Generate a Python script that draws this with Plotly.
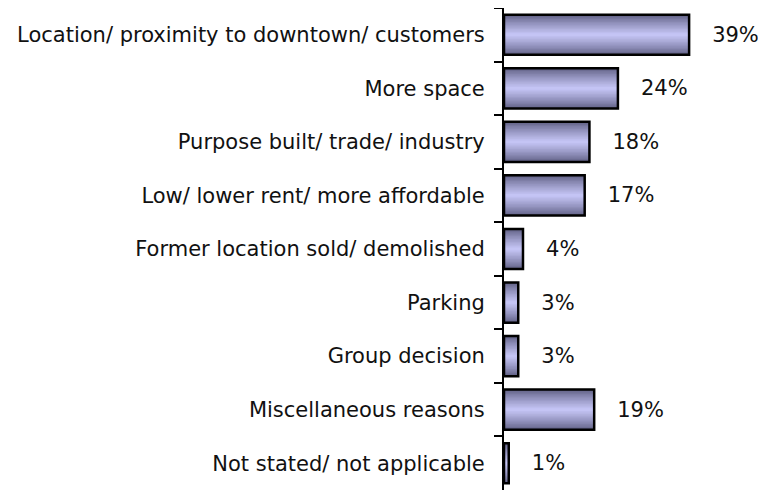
import numpy as np
from plotly import graph_objects as go

reasons = [
    "Location/ proximity to downtown/ customers",
    "More space",
    "Purpose built/ trade/ industry",
    "Low/ lower rent/ more affordable",
    "Former location sold/ demolished",
    "Parking",
    "Group decision",
    "Miscellaneous reasons",
    "Not stated/ not applicable",
]
pct = [39, 24, 18, 17, 4, 3, 3, 19, 1]

# build a fake vertical gradient by stacking narrower, lighter bars on top
n_layers = 14
edge = np.array([0x60, 0x60, 0x84])
mid = np.array([0xc4, 0xc4, 0xf4])
full_w = 0.75

fig = go.Figure()
for i in range(n_layers):
    t = i / (n_layers - 1)
    c = edge + (mid - edge) * (t ** 0.8)
    col = "rgb(%d,%d,%d)" % tuple(c.astype(int))
    w = full_w * (1 - t * 0.93)
    fig.add_trace(
        go.Bar(
            y=reasons,
            x=pct,
            orientation="h",
            width=w,
            marker=dict(color=col, line=dict(width=0)),
            hoverinfo="skip" if i else None,
            showlegend=False,
        )
    )

# outline + labels
fig.add_trace(
    go.Bar(
        y=reasons,
        x=pct,
        orientation="h",
        width=full_w,
        marker=dict(color="rgba(0,0,0,0)", line=dict(color="black", width=2.5)),
        text=[f"{v}%" for v in pct],
        texttemplate="   %{text}",
        textposition="outside",
        cliponaxis=False,
        textfont=dict(family="DejaVu Sans", size=21, color="#111111"),
        showlegend=False,
    )
)

# page body has an 8px margin, so the figure is a bit smaller than the window
fig.update_layout(
    barmode="overlay",
    width=758,
    height=486,
    margin=dict(l=496, r=0, t=0, b=4),
    paper_bgcolor="white",
    plot_bgcolor="white",
    font=dict(family="DejaVu Sans", size=21, color="#111111"),
)
fig.update_xaxes(range=[0, 55.2], visible=False, fixedrange=True, automargin=False)
fig.update_yaxes(
    autorange="reversed",
    automargin=False,
    showline=True,
    linecolor="black",
    linewidth=2,
    ticks="outside",
    tickson="boundaries",
    ticklen=8,
    tickwidth=2,
    tickcolor="black",
    ticklabelstandoff=13,
    showgrid=False,
    zeroline=False,
    fixedrange=True,
)

fig.write_html("out.html")
